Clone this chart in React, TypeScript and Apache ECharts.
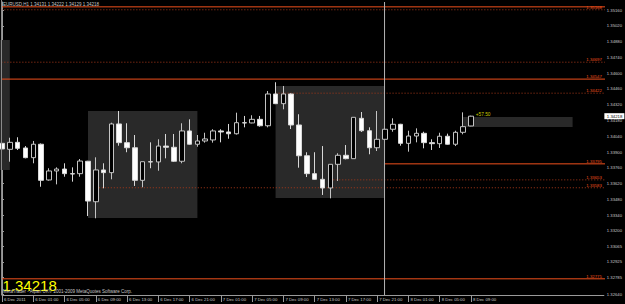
import React, { useEffect, useRef } from "react";
import * as echarts from "echarts";

const titleText = "EURUSD,H1 1.34131 1.34222 1.34129 1.34218";
const lastPriceText = "1.34218";
const lastPrice = 1.34218;
const copyrightText = "MetaTrader - Alpari UK© 2001-2009 MetaQuotes Software Corp.";
const gainText = "+57.50";
const gainPoint = [60.6, 1.34233];

const opens = [
  1.33977, 1.33924, 1.33986, 1.33936, 1.3385, 1.33969, 1.33652, 1.33732, 1.33749, 1.33708,
  1.33708, 1.33818, 1.33459, 1.33741, 1.33717, 1.34149, 1.33983, 1.33938, 1.33649, 1.33814,
  1.33812, 1.33953, 1.33942, 1.33818, 1.34087, 1.33969, 1.33998, 1.34007, 1.34087, 1.34078,
  1.34062, 1.3416, 1.34158, 1.3419, 1.34133, 1.34415, 1.34329, 1.34415, 1.3414, 1.33867,
  1.33708, 1.33658, 1.33581, 1.33791, 1.33871, 1.33841, 1.34199, 1.34089, 1.33938, 1.34013,
  1.34102, 1.34146, 1.33977, 1.34042, 1.34066, 1.33983, 1.33974, 1.3404, 1.33969, 1.34075,
  1.34131,
];
const closes = [
  1.33927, 1.33986, 1.33933, 1.3385, 1.33969, 1.33649, 1.33732, 1.33749, 1.33708, 1.33705,
  1.3382, 1.33465, 1.33741, 1.33717, 1.34149, 1.33983, 1.33938, 1.33649, 1.33814, 1.33812,
  1.33953, 1.33942, 1.33818, 1.34087, 1.33969, 1.33998, 1.34016, 1.34087, 1.34078, 1.34062,
  1.3416, 1.34158, 1.3419, 1.34133, 1.34415, 1.34329, 1.34415, 1.3414, 1.33867, 1.33708,
  1.33658, 1.33581, 1.33791, 1.33871, 1.33841, 1.34208, 1.34089, 1.33938, 1.34013, 1.34102,
  1.34146, 1.33977, 1.34042, 1.34066, 1.33983, 1.33974, 1.3404, 1.33969, 1.34075, 1.34125,
  1.34218,
];
const lows = [
  1.33909, 1.33814, 1.33918, 1.33844, 1.338, 1.33592, 1.33646, 1.33613, 1.33681, 1.33637,
  1.33681, 1.33332, 1.33312, 1.33578, 1.33658, 1.33956, 1.33898, 1.33599, 1.33587, 1.33756,
  1.33734, 1.33844, 1.33812, 1.338, 1.33965, 1.33947, 1.33983, 1.33983, 1.33986, 1.34018,
  1.34055, 1.34119, 1.34155, 1.34125, 1.34119, 1.34325, 1.34279, 1.34104, 1.33761, 1.33678,
  1.33655, 1.33519, 1.33489, 1.33643, 1.33835, 1.33841, 1.34078, 1.3388, 1.33909, 1.34013,
  1.3408, 1.33956, 1.33903, 1.33986, 1.33933, 1.33918, 1.33936, 1.33965, 1.33953, 1.34057,
  1.34129,
];
const highs = [
  1.33998, 1.34027, 1.34031, 1.33953, 1.33998, 1.33976, 1.33756, 1.33764, 1.338, 1.33764,
  1.33838, 1.33822, 1.33853, 1.338, 1.3416, 1.34264, 1.34155, 1.34051, 1.33814, 1.33986,
  1.34013, 1.3406, 1.3406, 1.34155, 1.3419, 1.34051, 1.34071, 1.34102, 1.34102, 1.34149,
  1.34249, 1.3422, 1.34226, 1.3422, 1.34441, 1.34519, 1.34486, 1.34421, 1.34235, 1.33898,
  1.33898, 1.33953, 1.33791, 1.33889, 1.33962, 1.34208, 1.34255, 1.34119, 1.34264, 1.34102,
  1.34199, 1.3415, 1.34089, 1.3411, 1.3408, 1.34013, 1.34071, 1.34063, 1.34089, 1.34252,
  1.34222,
];

const timeLabels = [
  "6 Dec 2011", "6 Dec 01:00", "6 Dec 05:00", "6 Dec 09:00", "6 Dec 13:00", "6 Dec 17:00",
  "6 Dec 21:00", "7 Dec 01:00", "7 Dec 05:00", "7 Dec 09:00", "7 Dec 13:00", "7 Dec 17:00",
  "7 Dec 21:00", "8 Dec 01:00", "8 Dec 05:00", "8 Dec 09:00",
];
const labelEvery = 4;
const totalSlots = 78;

const priceTicks = [
  1.3516, 1.3502, 1.3488, 1.3474, 1.346, 1.3446, 1.3432, 1.3418, 1.3404, 1.339, 1.3376,
  1.3362, 1.3348, 1.3334, 1.332, 1.33065, 1.32925, 1.32785, 1.3264,
];

const levelPrices = [1.35188, 1.35162, 1.34697, 1.34547, 1.34422, 1.33795, 1.33653, 1.33583, 1.32775];
const levelStarts = [-2, -2, -2, -2, 35, 49, 42, 12, -2];
const levelDotted = [false, true, true, false, true, false, true, true, false];
const levelTexts = ["", "1.35168", "1.34697", "1.34547", "1.34422", "1.33795", "1.33653", "1.33583", "1.32775"];

const boxStarts = [-13, 11, 35, 59];
const boxEnds = [1, 25, 49, 73];
const boxHighs = [1.34894, 1.34264, 1.34486, 1.34211];
const boxLows = [1.3374, 1.33315, 1.33492, 1.34122];

const separatorAt = 48.94;

const Y_MIN = 1.326315;
const Y_MAX = 1.35231;
const FONT = "'Liberation Sans', Arial, sans-serif";
const ORANGE = "#f0501c";
const DOT = "#a8381a";

export default function App() {
  const ref = useRef<HTMLDivElement>(null);
  useEffect(() => {
    if (!ref.current) return;
    const chart = echarts.init(ref.current, undefined, { renderer: "svg" });
    const categories = Array.from({ length: totalSlots }, (_, i) => "b" + i);
    const showIdx = (i: number) => i % labelEvery === 0 && i / labelEvery < timeLabels.length;
    const candleData = opens.map((o, i) => [o, closes[i], lows[i], highs[i]]);

    const levelSeries = levelPrices.map((p, i) => ({
      type: "line",
      xAxisIndex: 1,
      yAxisIndex: 0,
      data: [[levelStarts[i], p], [totalSlots, p]],
      symbol: "none",
      silent: true,
      z: 2,
      lineStyle: levelDotted[i]
        ? { color: DOT, width: 1, type: [1, 2] }
        : { color: ORANGE, width: 1, type: "solid" },
    }));

    const labelRows = levelPrices
      .map((p, i) => ({ p, t: levelTexts[i] }))
      .filter((r) => r.t !== "");

    chart.setOption({
      animation: false,
      backgroundColor: "#000000",
      textStyle: { fontFamily: FONT },
      grid: { left: 2, right: 18, top: 2, bottom: 9, containLabel: false },
      xAxis: [
        {
          type: "category",
          data: categories,
          boundaryGap: false,
          axisLine: { lineStyle: { color: "#9a9a9a", width: 1 } },
          axisTick: {
            interval: (i: number) => showIdx(i),
            length: 7,
            lineStyle: { color: "#9a9a9a" },
          },
          axisLabel: {
            interval: (i: number) => showIdx(i),
            formatter: (_v: string, i: number) => (showIdx(i) ? timeLabels[i / labelEvery] : ""),
            align: "left",
            padding: [0, 0, 0, 2],
            margin: 2,
            fontSize: 4.3,
            color: "#c8c8c8",
            fontFamily: FONT,
            hideOverlap: false,
          },
          splitLine: { show: false },
        },
        {
          type: "value",
          min: 0,
          max: totalSlots - 1,
          show: false,
          gridIndex: 0,
        },
      ],
      yAxis: {
        type: "value",
        position: "right",
        min: Y_MIN,
        max: Y_MAX,
        scale: true,
        axisLine: { show: true, lineStyle: { color: "#9a9a9a", width: 1 } },
        axisTick: { show: true, length: 2, customValues: priceTicks, lineStyle: { color: "#9a9a9a" } },
        axisLabel: {
          customValues: priceTicks,
          formatter: (v: number) => v.toFixed(5),
          fontSize: 4.2,
          color: "#c8c8c8",
          margin: 3,
          fontFamily: FONT,
        },
        splitLine: { show: false },
      },
      graphic: [
        { type: "line", shape: { x1: 1.5, y1: 0, x2: 1.5, y2: 295 }, style: { stroke: "#8a8a8a", lineWidth: 1 }, z: 100 },
        { type: "text", x: 3, y: 4.7, style: { text: titleText, fill: "#c8c8c8", fontSize: 4.5, fontFamily: FONT, verticalAlign: "middle" }, z: 100 },
        { type: "text", x: 2.5, y: 285.5, style: { text: lastPriceText, fill: "#ffff00", fontSize: 15, fontFamily: FONT, verticalAlign: "middle" }, z: 100 },
        { type: "text", x: 3, y: 291.3, style: { text: copyrightText, fill: "#c8c8c8", fontSize: 4.5, fontFamily: FONT, verticalAlign: "middle" }, z: 101 },
      ],
      series: [
        {
          type: "custom",
          xAxisIndex: 1,
          yAxisIndex: 0,
          z: 1,
          silent: true,
          data: boxStarts.map((s, i) => [s, boxEnds[i], boxHighs[i], boxLows[i]]),
          renderItem: (_p: any, api: any) => {
            const a = api.coord([api.value(0), api.value(2)]);
            const b = api.coord([api.value(1), api.value(3)]);
            return {
              type: "rect",
              shape: { x: a[0], y: a[1], width: b[0] - a[0], height: b[1] - a[1] },
              style: { fill: "#292929" },
            };
          },
        },
        ...levelSeries,
        {
          type: "line",
          xAxisIndex: 1,
          yAxisIndex: 0,
          data: [[separatorAt, Y_MIN], [separatorAt, Y_MAX]],
          symbol: "none",
          silent: true,
          z: 2,
          lineStyle: { color: "#b4b4b4", width: 1 },
        },
        {
          type: "candlestick",
          xAxisIndex: 0,
          yAxisIndex: 0,
          data: candleData,
          barWidth: 5,
          clip: false,
          z: 3,
          itemStyle: {
            color: "#000000",
            borderColor: "#c4c4c4",
            color0: "#ffffff",
            borderColor0: "#d8d8d8",
            borderWidth: 1,
          },
        },
        {
          type: "custom",
          xAxisIndex: 1,
          yAxisIndex: 0,
          z: 4,
          silent: true,
          data: labelRows.map((r) => [totalSlots - 1, r.p]),
          renderItem: (p: any, api: any) => {
            const pt = api.coord([api.value(0), api.value(1)]);
            return {
              type: "text",
              x: pt[0] - 2,
              y: pt[1] - 0.6,
              style: {
                text: labelRows[p.dataIndex].t,
                fill: ORANGE,
                fontSize: 4.3,
                fontFamily: FONT,
                align: "right",
                verticalAlign: "bottom",
              },
            };
          },
        },
        {
          type: "custom",
          xAxisIndex: 1,
          yAxisIndex: 0,
          z: 4,
          silent: true,
          data: [gainPoint],
          renderItem: (_p: any, api: any) => {
            const pt = api.coord([api.value(0), api.value(1)]);
            return {
              type: "text",
              x: pt[0],
              y: pt[1],
              style: { text: gainText, fill: "#c8c800", fontSize: 4.8, fontFamily: FONT, align: "left", verticalAlign: "middle" },
            };
          },
        },
        {
          type: "custom",
          xAxisIndex: 1,
          yAxisIndex: 0,
          z: 5,
          silent: true,
          data: [[totalSlots - 1, lastPrice]],
          renderItem: (_p: any, api: any) => {
            const pt = api.coord([api.value(0), api.value(1)]);
            return {
              type: "group",
              children: [
                { type: "rect", shape: { x: pt[0] + 0.5, y: pt[1] - 3, width: 20, height: 6 }, style: { fill: "#ffffff" } },
                {
                  type: "text",
                  x: pt[0] + 3,
                  y: pt[1],
                  style: { text: lastPriceText, fill: "#000000", fontSize: 4.3, fontFamily: FONT, verticalAlign: "middle" },
                },
              ],
            };
          },
        },
      ],
    });
    return () => chart.dispose();
  }, []);
  return (
    <div
      ref={ref}
      style={{ position: "fixed", left: 0, top: 0, width: 625, height: 304, background: "#000" }}
    />
  );
}
